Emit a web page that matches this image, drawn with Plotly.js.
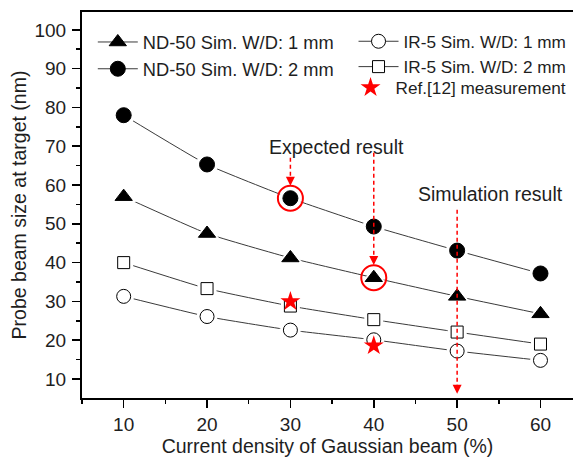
<!DOCTYPE html>
<html><head><meta charset="utf-8">
<script src="https://cdn.plot.ly/plotly-3.0.1.min.js"></script>
<style>html,body{margin:0;padding:0;background:#fff}</style>
</head><body><div id="chart" style="width:573px;height:457px"></div>
<script>
// data
const density = [10, 20, 30, 40, 50, 60];
const nd50_wd1 = [57, 47.5, 41.2, 36.1, 31.3, 26.8];
const nd50_wd2 = [78, 65.3, 56.6, 49.3, 43.1, 37.2];
const ir5_wd1 = [31.3, 26.1, 22.6, 20.1, 17.2, 14.8];
const ir5_wd2 = [40, 33.3, 28.8, 25.3, 22.1, 19.0];
const refX = [30, 40];
const refY = [30.0, 18.6];
const highlightX = [30, 40];
const highlightY = [56.6, 36.1];
const seriesNames = ['ND-50 Sim. W/D: 1 mm','ND-50 Sim. W/D: 2 mm','IR-5 Sim. W/D: 1 mm','IR-5 Sim. W/D: 2 mm','Ref.[12] measurement'];
// arrows: [x, yStart, yTip]
const arrowX = [30, 40, 50];
const arrowTop = [67.0, 68.3, 53.6];
const arrowTip = [59.8, 39.4, 6.2];
const noteText = ['Expected result','Simulation result'];
const noteX = [35.5, 54.0];
const noteY = [69.8, 57.6];

const FONT = 'Liberation Sans, Arial, Helvetica, sans-serif';
const LC = '#3a3a3a';
const TC = '#1e1e1e';

const series = [
  {y: nd50_wd1, sym:'triangle-up', size:15, fill:'#000', name:seriesNames[0], legend:'legend'},
  {y: nd50_wd2, sym:'circle', size:15, fill:'#000', name:seriesNames[1], legend:'legend'},
  {y: ir5_wd1, sym:'circle', size:14, fill:'#fff', name:seriesNames[2], legend:'legend2'},
  {y: ir5_wd2, sym:'square', size:12, fill:'#fff', name:seriesNames[3], legend:'legend2'}
];

const traces = [];
series.forEach(s => traces.push({x: density, y: s.y, mode:'lines', line:{color:LC, width:1, shape:'spline', smoothing:0.4}, showlegend:false, hoverinfo:'skip'}));
series.forEach(s => traces.push({x: density, y: s.y, mode:'markers', marker:{symbol:s.sym, size:s.size+7, color:'#fff', line:{width:0}}, showlegend:false, hoverinfo:'skip'}));
series.forEach(s => traces.push({x: density, y: s.y, mode:'markers', marker:{symbol:s.sym, size:s.size, color:s.fill, line:{color:'#000', width:1}}, showlegend:false}));
series.forEach(s => traces.push({x:[null], y:[null], mode:'lines+markers', name:s.name, legend:s.legend, line:{color:LC, width:1}, marker:{symbol:s.sym, size:s.size, color:s.fill, line:{color:'#000', width:1}}}));
traces.push({x: refX, y: refY, mode:'markers', name:seriesNames[4], legend:'legend3', marker:{symbol:'star', size:15, color:'#ff0000', line:{width:0}}});
traces.push({x: highlightX, y: highlightY, mode:'markers', showlegend:false, marker:{symbol:'circle-open', size:25, color:'#ff0000', line:{color:'#ff0000', width:2}}});

const shapes = [];
arrowX.forEach((x,i) => shapes.push({type:'line', xref:'x', yref:'y', x0:x, x1:x, y0:arrowTop[i], y1:arrowTip[i]+1.5, line:{color:'#ff0000', width:1.5, dash:'4px,3px'}}));

const annotations = [];
arrowX.forEach((x,i) => annotations.push({x:x, y:arrowTip[i], xref:'x', yref:'y', text:'', showarrow:true, arrowhead:2, arrowsize:1.2, arrowwidth:1.5, arrowcolor:'#ff0000', ax:0, ay:-7, standoff:0}));
noteText.forEach((t,i) => annotations.push({x:noteX[i], y:noteY[i], xref:'x', yref:'y', text:t, showarrow:false, font:{family:FONT, size:19.5, color:TC}}));

const legBase = {yanchor:'top', bgcolor:'rgba(0,0,0,0)', tracegroupgap:0, itemwidth:40};
const layout = {
  width:573, height:457,
  margin:{l:82, r:0, t:12, b:59},
  paper_bgcolor:'#fff', plot_bgcolor:'#fff',
  font:{family:FONT, size:19, color:TC},
  xaxis:{range:[5, 63.9], tickvals:density, ticks:'outside', ticklen:8, tickwidth:1.5, tickcolor:'#000',
    showline:true, linecolor:'#000', linewidth:2, mirror:true, showgrid:false, zeroline:false,
    minor:{dtick:5, tick0:5, ticks:'outside', ticklen:4, tickwidth:1.5, tickcolor:'#000', showgrid:false},
    tickfont:{size:19, family:FONT, color:TC},
    title:{text:'Current density of Gaussian beam (%)', font:{size:19.5, family:FONT, color:TC}, standoff:14}},
  yaxis:{range:[5.1, 104.6], dtick:10, tick0:0, ticks:'outside', ticklen:8, tickwidth:1.5, tickcolor:'#000',
    showline:true, linecolor:'#000', linewidth:2, showgrid:false, zeroline:false,
    minor:{dtick:5, tick0:5, ticks:'outside', ticklen:4, tickwidth:1.5, tickcolor:'#000', showgrid:false},
    tickfont:{size:19, family:FONT, color:TC}, ticklabelstandoff:2,
    title:{text:'Probe beam size at target (nm)', font:{size:19.5, family:FONT, color:TC}, standoff:3}},
  legend:Object.assign({x:0.022, y:0.97, xanchor:'left', font:{size:18.3, family:FONT, color:TC}}, legBase),
  legend2:Object.assign({x:0.997, y:0.97, xanchor:'right', font:{size:17.2, family:FONT, color:TC}}, legBase),
  legend3:Object.assign({x:0.997, y:0.85, xanchor:'right', font:{size:17.2, family:FONT, color:TC}}, legBase),
  shapes:shapes,
  annotations:annotations
};
Plotly.newPlot('chart', traces, layout, {displayModeBar:false, staticPlot:true});
</script></body></html>
